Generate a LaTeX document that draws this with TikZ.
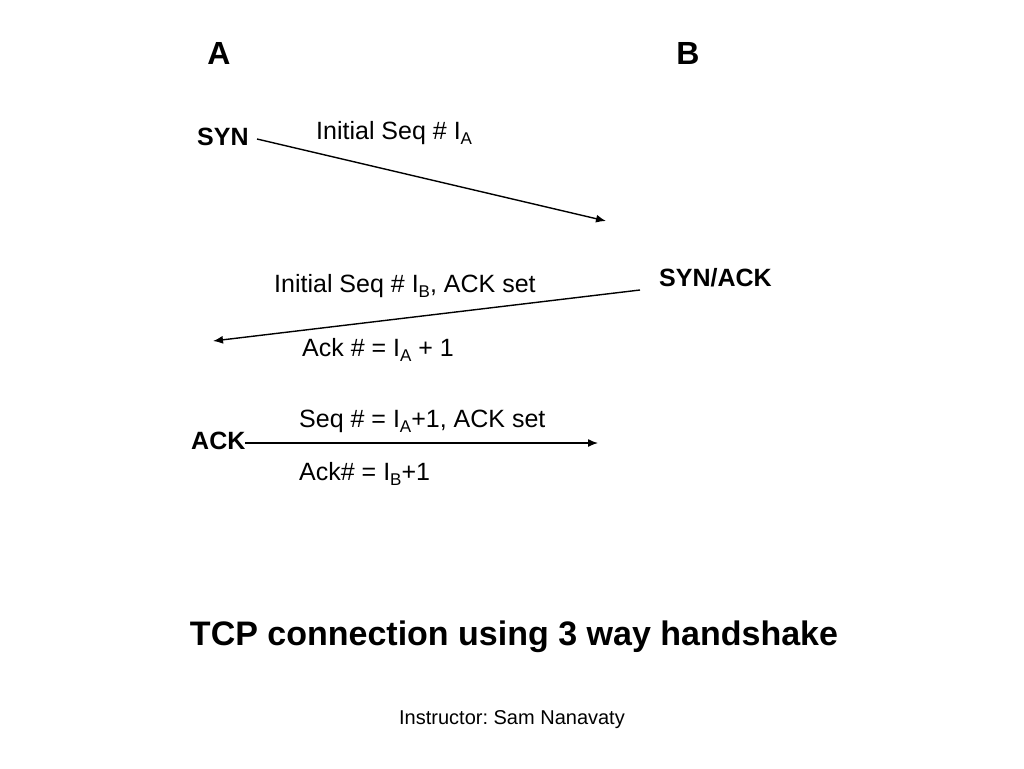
\documentclass[tikz,border=0pt]{standalone}
\usepackage{fontspec}
\setmainfont{Liberation Sans}
\usetikzlibrary{calc,arrows.meta}
\frenchspacing
\newcommand{\sbs}[1]{\raisebox{-0.22em}{\fontsize{17}{17}\selectfont #1}}
\tikzset{
      host/.style={inner sep=0pt, font=\fontsize{32}{36}\selectfont\bfseries},
      flag/.style={inner sep=0pt, anchor=base west, font=\fontsize{25}{30}\selectfont\bfseries},
      info/.style={inner sep=0pt, anchor=base west, font=\fontsize{25}{30}\selectfont},
      msg/.style={line width=1.4pt, -{Latex[length=10pt,width=8pt]}}
}
\begin{document}
\begin{tikzpicture}[x=1pt,y=-1pt]
                  \useasboundingbox[fill=white] (0,0) rectangle (1024,768);
                  % the two hosts
                  \node[host, anchor=base] (hostA) at (219,64) {A};
                  \node[host, anchor=base] (hostB) at (688,64) {B};
                  % SYN
                  \node[flag] (syn) at (197,145) {SYN};
                  \node[info] (synseq) at (316,139) {Initial Seq \# I\sbs{A}};
                  \coordinate (synout) at (257,139);
                  \coordinate (synin) at (606,221);
                  \draw[msg] (synout) -- (synin);
                  % SYN/ACK
                  \node[flag] (synack) at (659,286) {SYN/ACK};
                  \node[info] (sakseq) at (274,292) {Initial Seq \# I\sbs{B}, ACK set};
                  \node[info] (saknum) at (302,356) {Ack \# = I\sbs{A} + 1};
                  \coordinate (sakout) at (640,290);
                  \coordinate (sakin) at (213,341);
                  \draw[msg] (sakout) -- (sakin);
                  % ACK
                  \node[flag] (ack) at (191,449) {ACK};
                  \node[info] (ackseq) at (299,427) {Seq \# = I\sbs{A}+1, ACK set};
                  \node[info] (acknum) at (299,480) {Ack\# = I\sbs{B}+1};
                  \coordinate (ackout) at (245,443);
                  \coordinate (ackin) at (598,443);
                  \draw[msg] (ackout) -- (ackin);
                  % title and credit
                  \node[inner sep=0pt, anchor=base, font=\fontsize{34}{40}\selectfont\bfseries] (title) at (514,645) {TCP connection using 3 way handshake};
                  \node[inner sep=0pt, anchor=base, font=\fontsize{20}{24}\selectfont] (credit) at (512,724) {Instructor: Sam Nanavaty};
            \end{tikzpicture}
\end{document}
